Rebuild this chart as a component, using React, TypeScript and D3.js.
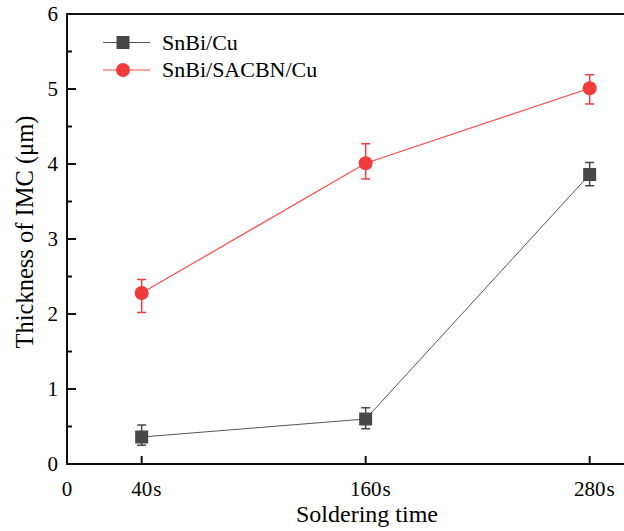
import React from 'react';
import * as d3 from 'd3';

// soldering time (s)
const times = [40, 160, 280];
const xTickValues = [0, 40, 160, 280];
const xTickLabels = ['0', '40', '160', '280'];
const yTickValues = [0, 1, 2, 3, 4, 5, 6];
const yMinorTicks = [0.5, 1.5, 2.5, 3.5, 4.5, 5.5];

// SnBi/Cu
const cuMean = [0.36, 0.6, 3.86];
const cuLow = [0.25, 0.47, 3.71];
const cuHigh = [0.52, 0.75, 4.02];

// SnBi/SACBN/Cu
const sacMean = [2.28, 4.01, 5.01];
const sacLow = [2.02, 3.8, 4.8];
const sacHigh = [2.46, 4.27, 5.19];

const W = 624, H = 531;
const FONT = '"Liberation Serif", "Times New Roman", serif';
const GRAY = '#474747';
const RED = '#f23c3c';

export default function App() {
  const x = d3.scaleLinear().domain([0, 300]).range([67, 627]);
  const y = d3.scaleLinear().domain([0, 6]).range([464, 14]);

  const line = d3.line<number>()
    .x((_, i) => x(times[i]))
    .y((d) => y(d));

  const errBars = (lo: number[], hi: number[], color: string) =>
    times.map((t, i) => (
      <g key={t} stroke={color} strokeWidth={1.5}>
        <line x1={x(t)} x2={x(t)} y1={y(lo[i])} y2={y(hi[i])} />
        <line x1={x(t) - 4.5} x2={x(t) + 4.5} y1={y(lo[i])} y2={y(lo[i])} />
        <line x1={x(t) - 4.5} x2={x(t) + 4.5} y1={y(hi[i])} y2={y(hi[i])} />
      </g>
    ));

  return (
    <svg width={W} height={H} style={{ position: 'absolute', left: 0, top: 0 }} fontFamily={FONT}>
      <rect width={W} height={H} fill="#fff" />

      {/* series lines */}
      <path d={line(cuMean) || ''} fill="none" stroke="#555" strokeWidth={1} />
      <path d={line(sacMean) || ''} fill="none" stroke="#ff4a4a" strokeWidth={1.2} />

      {errBars(cuLow, cuHigh, GRAY)}
      {errBars(sacLow, sacHigh, RED)}

      {cuMean.map((v, i) => (
        <rect key={i} x={x(times[i]) - 6.5} y={y(v) - 6.5} width={13} height={13} fill={GRAY} />
      ))}
      {sacMean.map((v, i) => (
        <circle key={i} cx={x(times[i])} cy={y(v)} r={7} fill={RED} />
      ))}

      {/* frame */}
      <line x1={67} x2={67} y1={y(6)} y2={y(0) + 1} stroke="#111" strokeWidth={2} />
      <line x1={66} x2={W} y1={y(0)} y2={y(0)} stroke="#111" strokeWidth={2} />
      <line x1={66} x2={W} y1={y(6)} y2={y(6)} stroke="#111" strokeWidth={2} />

      {/* y ticks (inward) */}
      {yTickValues.map((v) => (
        <g key={v}>
          <line x1={67} x2={76} y1={y(v)} y2={y(v)} stroke="#111" strokeWidth={2} />
          <text x={58} y={y(v) + 7} textAnchor="end" fontSize={21}>{v}</text>
        </g>
      ))}
      {yMinorTicks.map((v) => (
        <line key={v} x1={67} x2={72} y1={y(v)} y2={y(v)} stroke="#111" strokeWidth={2} />
      ))}

      {/* x ticks (inward); number centred on the tick, unit hangs to the right */}
      {xTickValues.map((v, i) => (
        <g key={v}>
          {v > 0 && <line x1={x(v)} x2={x(v)} y1={y(0)} y2={y(0) - 8} stroke="#111" strokeWidth={2} />}
          <text x={x(v) - xTickLabels[i].length * 5.25} y={496} textAnchor="start" fontSize={21}>
            {xTickLabels[i]}
            {v > 0 && <tspan dx={1}>s</tspan>}
          </text>
        </g>
      ))}

      {/* axis titles */}
      <text x={367} y={522} textAnchor="middle" fontSize={24}>Soldering time</text>
      <text transform={`translate(33,${232}) rotate(-90)`} textAnchor="middle" fontSize={24.5}>
        Thickness of IMC (μm)
      </text>

      {/* legend */}
      <g>
        <line x1={103} x2={150} y1={42.5} y2={42.5} stroke="#555" strokeWidth={1} />
        <rect x={116.5} y={36} width={13} height={13} fill={GRAY} />
        <text x={162} y={49.5} fontSize={22}>SnBi/Cu</text>
        <line x1={103} x2={150} y1={70} y2={70} stroke="#ff4a4a" strokeWidth={1.2} />
        <circle cx={123} cy={70} r={7} fill={RED} />
        <text x={162} y={77} fontSize={22}>SnBi/SACBN/Cu</text>
      </g>
    </svg>
  );
}
